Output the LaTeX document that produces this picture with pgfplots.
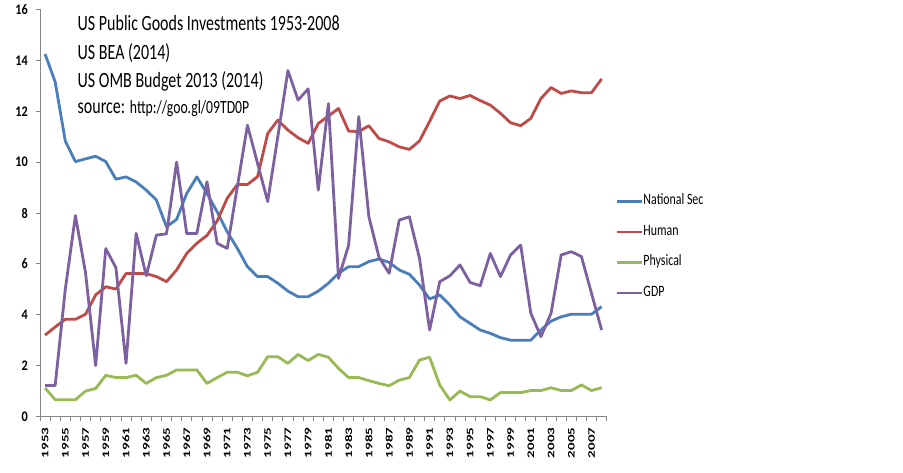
\documentclass[border=0pt]{standalone}
\usepackage{pgfplots}
\pgfplotsset{compat=1.18}
\usepackage{pgfplotstable}
\usepackage{graphicx}
\usepackage{fontspec}
\setmainfont{Carlito}
\definecolor{cNat}{HTML}{4A7EBB}
\definecolor{cHum}{HTML}{BE4B48}
\definecolor{cPhy}{HTML}{98B954}
\definecolor{cGdp}{HTML}{7D60A0}
\definecolor{axgray}{HTML}{868686}
\newcommand\vy[1]{\scalebox{1}[1.2]{#1}}
\newcommand\vx[1]{\scalebox{1.5}[1]{#1}}
\newcommand\vl[1]{\scalebox{1}[1.33]{#1}}
\newcommand\vt[1]{\scalebox{1}[1.36]{#1}}
\pgfplotstableread{
year nat hum phy gdp
1953 14.25 3.2 1.12 1.22
1954 13.15 3.52 0.66 1.22
1955 10.83 3.82 0.66 5.0
1956 10.02 3.82 0.66 7.9
1957 10.13 4.02 1.0 5.65
1958 10.23 4.78 1.1 2.0
1959 10.02 5.1 1.62 6.6
1960 9.33 5.01 1.53 5.85
1961 9.42 5.62 1.53 2.09
1962 9.22 5.62 1.62 7.2
1963 8.9 5.62 1.3 5.53
1964 8.51 5.5 1.53 7.13
1965 7.46 5.3 1.62 7.18
1966 7.75 5.76 1.83 10.0
1967 8.77 6.41 1.83 7.19
1968 9.42 6.81 1.83 7.2
1969 8.77 7.12 1.3 9.23
1970 8.05 7.68 1.53 6.81
1971 7.26 8.58 1.74 6.61
1972 6.61 9.12 1.74 9.03
1973 5.89 9.12 1.6 11.45
1974 5.5 9.43 1.74 9.95
1975 5.5 11.12 2.35 8.45
1976 5.24 11.65 2.35 11.0
1977 4.93 11.26 2.09 13.6
1978 4.71 10.96 2.44 12.44
1979 4.71 10.74 2.2 12.88
1980 4.93 11.52 2.44 8.9
1981 5.24 11.81 2.33 12.3
1982 5.63 12.11 1.89 5.43
1983 5.89 11.22 1.53 6.74
1984 5.89 11.2 1.53 11.79
1985 6.09 11.43 1.41 7.85
1986 6.19 10.93 1.3 6.26
1987 6.06 10.8 1.21 5.63
1988 5.76 10.6 1.43 7.72
1989 5.59 10.5 1.53 7.85
1990 5.17 10.83 2.22 6.22
1991 4.62 11.6 2.33 3.4
1992 4.78 12.4 1.24 5.3
1993 4.38 12.6 0.65 5.53
1994 3.92 12.5 1.0 5.96
1995 3.66 12.62 0.78 5.27
1996 3.4 12.42 0.78 5.14
1997 3.27 12.24 0.65 6.41
1998 3.1 11.92 0.94 5.5
1999 3.0 11.55 0.94 6.35
2000 3.0 11.43 0.94 6.74
2001 3.0 11.72 1.02 4.06
2002 3.4 12.5 1.02 3.14
2003 3.75 12.93 1.13 4.06
2004 3.92 12.7 1.02 6.35
2005 4.02 12.8 1.02 6.48
2006 4.02 12.73 1.24 6.29
2007 4.02 12.73 1.02 4.84
2008 4.32 13.27 1.13 3.4
}\data
\begin{document}
\begin{tikzpicture}
\path[use as bounding box] (0,0) rectangle (903pt,472pt);
\begin{axis}[
  scale only axis, width=566.7pt, height=407pt,
  at={(40pt,55.5pt)}, anchor=south west,
  xmin=1952.5, xmax=2008.5, ymin=0, ymax=16,
  axis x line*=bottom, axis y line*=left,
  x axis line style={-}, y axis line style={-},
  axis line style={draw=axgray, line width=0.9pt},
  tick align=outside, major tick length=4pt, minor tick length=4pt,
  tick style={draw=axgray, line width=0.8pt},
  major x tick style={draw=none},
  ytick={0,2,...,16},
  yticklabels={\vy{0},\vy{2},\vy{4},\vy{6},\vy{8},\vy{10},\vy{12},\vy{14},\vy{16}},
  yticklabel style={font=\bfseries\fontsize{12.2}{14}\selectfont, inner sep=0pt, xshift=-8pt},
  xtick={1953,1955,...,2007},
  minor xtick={1952.5,1953.5,...,2008.5},
  xticklabels={\vx{1953},\vx{1955},\vx{1957},\vx{1959},\vx{1961},\vx{1963},\vx{1965},\vx{1967},\vx{1969},\vx{1971},\vx{1973},\vx{1975},\vx{1977},\vx{1979},\vx{1981},\vx{1983},\vx{1985},\vx{1987},\vx{1989},\vx{1991},\vx{1993},\vx{1995},\vx{1997},\vx{1999},\vx{2001},\vx{2003},\vx{2005},\vx{2007}},
  xticklabel style={rotate=90, anchor=east, inner sep=0pt, font=\bfseries\fontsize{10}{12}\selectfont, xshift=-7pt},
  legend style={at={(1.0164,0.416)}, anchor=west, draw=none, fill=none,
    inner sep=0pt, outer sep=0pt, row sep=19.5pt,
    font=\fontsize{11.9}{14}\selectfont,
    nodes={inner sep=0pt, text height=9pt, text depth=2pt}},
  legend cell align=left,
  legend image code/.code={\draw[#1, line cap=butt] (0pt,0pt) -- (24.7pt,0pt);},
]
\addplot[cNat, line width=2.8pt, line join=round] table[x=year,y=nat] {\data};
\addlegendentry{\vl{National Sec}}
\addplot[cHum, line width=2.8pt, line join=round] table[x=year,y=hum] {\data};
\addlegendentry{\vl{Human}}
\addplot[cPhy, line width=2.8pt, line join=round] table[x=year,y=phy] {\data};
\addlegendentry{\vl{Physical}}
\addplot[cGdp, line width=2.8pt, line join=round] table[x=year,y=gdp] {\data};
\addlegendentry{\vl{GDP}}
\end{axis}
\node[anchor=base west, inner sep=0pt, font=\fontsize{16}{19}\selectfont] at (77.5pt,441.3pt) {\vt{US Public Goods Investments 1953-2008}};
\node[anchor=base west, inner sep=0pt, font=\fontsize{16}{19}\selectfont] at (77.5pt,412.7pt) {\vt{US BEA (2014)}};
\node[anchor=base west, inner sep=0pt, font=\fontsize{16}{19}\selectfont] at (77.5pt,384.7pt) {\vt{US OMB Budget 2013 (2014)}};
\node[anchor=base west, inner sep=0pt, font=\fontsize{16}{19}\selectfont] at (77.5pt,358.7pt) {\vt{source: {\fontsize{13.7}{16}\selectfont http://goo.gl/09TD0P}}};
\end{tikzpicture}
\end{document}
